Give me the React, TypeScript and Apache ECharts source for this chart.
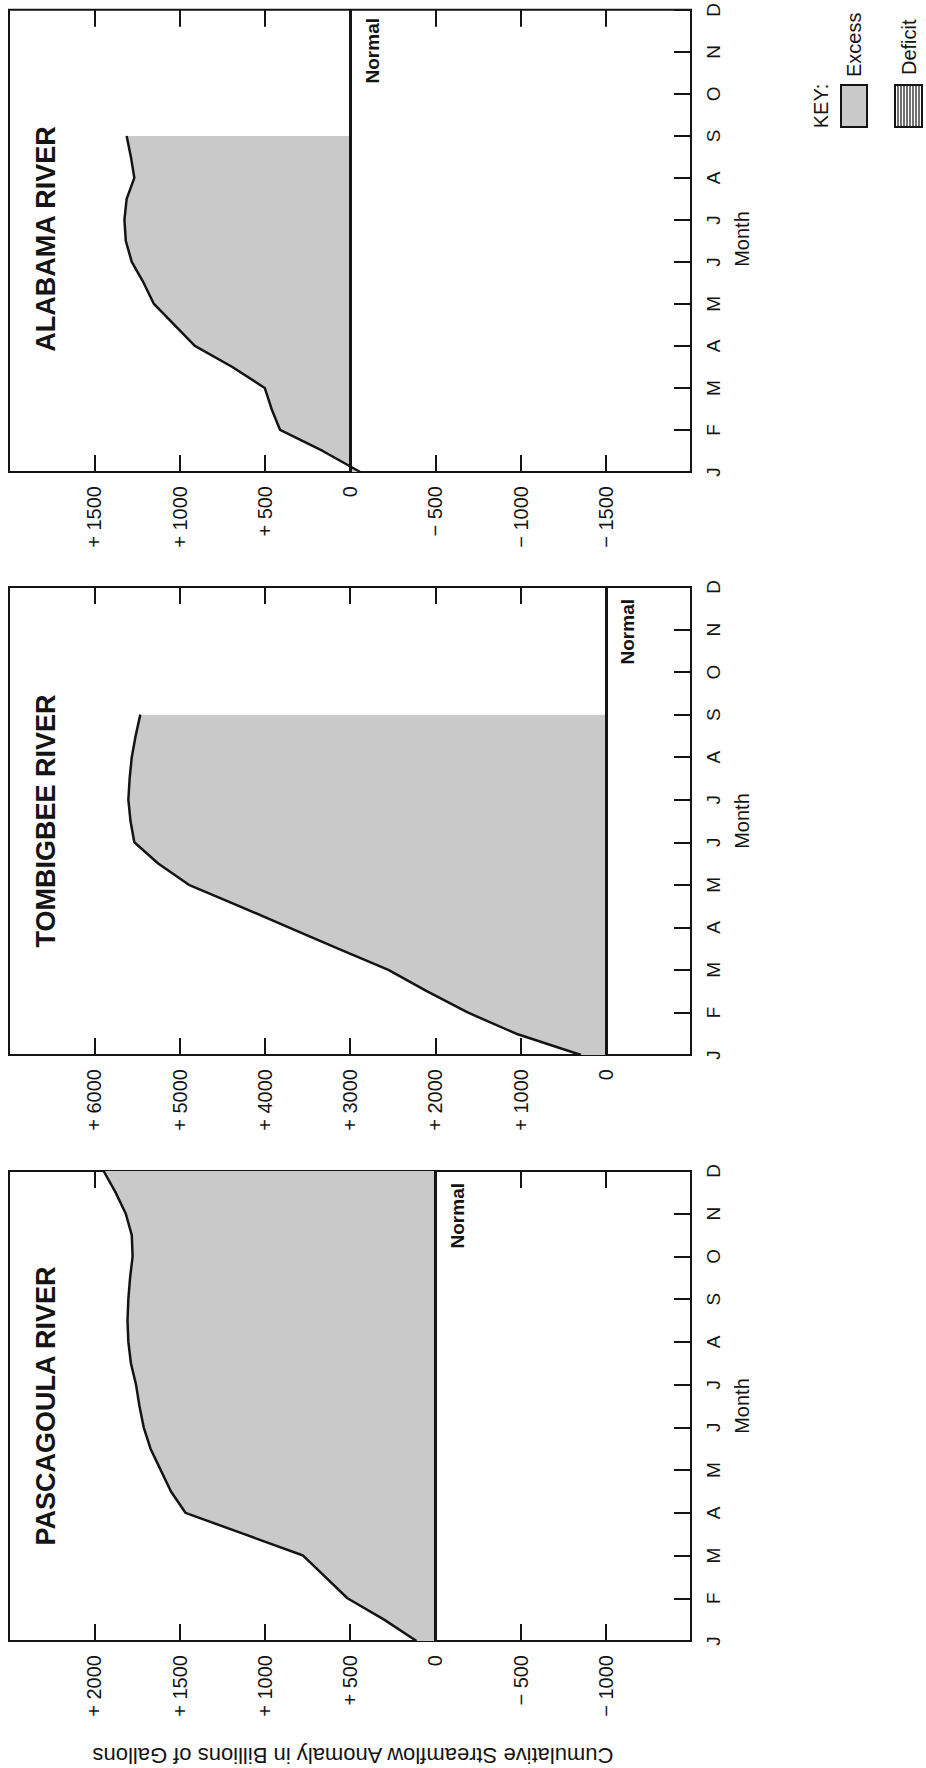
import React, { useEffect, useRef } from 'react';
import * as echarts from 'echarts';

// Month tick labels (one per month) and the half-month positions along the month axis
const MONTH_LABELS = ['J', 'F', 'M', 'A', 'M', 'J', 'J', 'A', 'S', 'O', 'N', 'D'];
const HALF_MONTH_KEYS = [
  'Jan 1', 'Jan 16', 'Feb 1', 'Feb 15', 'Mar 1', 'Mar 16', 'Apr 1', 'Apr 16',
  'May 1', 'May 16', 'Jun 1', 'Jun 16', 'Jul 1', 'Jul 16', 'Aug 1', 'Aug 16',
  'Sep 1', 'Sep 16', 'Oct 1', 'Oct 16', 'Nov 1', 'Nov 16', 'Dec 1',
];

const RIVER_NAMES = ['ALABAMA RIVER', 'TOMBIGBEE RIVER', 'PASCAGOULA RIVER'];

// Cumulative streamflow anomaly (billions of gallons), half-month steps from Jan 1
const ALABAMA = [-60, 160, 410, 460, 500, 690, 910, 1030, 1150, 1210, 1280, 1315, 1323, 1310, 1265, 1285, 1310];
const TOMBIGBEE = [290, 1050, 1620, 2100, 2550, 3140, 3720, 4300, 4890, 5250, 5530, 5575, 5600, 5585, 5560, 5515, 5460];
const PASCAGOULA = [110, 300, 515, 645, 775, 1120, 1465, 1550, 1610, 1670, 1710, 1735, 1755, 1785, 1800, 1805, 1800, 1790, 1775, 1780, 1815, 1875, 1945];

// Value-axis ranges and tick steps
const ALABAMA_AXIS = { min: -2000, max: 2000, step: 500 };
const TOMBIGBEE_AXIS = { min: -1000, max: 7000, step: 1000 };
const PASCAGOULA_AXIS = { min: -1500, max: 2500, step: 500 };

const AXIS_TITLE = 'Cumulative Streamflow Anomaly in Billions of Gallons';
const KEY_LABELS = ['KEY:', 'Excess', 'Deficit'];

const FONT = '"Liberation Sans", Arial, Helvetica, sans-serif';
const INK = '#141414';
const FILL = '#c9c9c9';

const LAYOUT = [
  { top: 6, height: 466 },
  { top: 587, height: 468 },
  { top: 1171, height: 470 },
];
const GRID_LEFT = 9;
const GRID_WIDTH = 682;

const fmtValue = (v: number) => (v === 0 ? '0' : v > 0 ? `+ ${v}` : `\u2212 ${Math.abs(v)}`);

export default function App() {
  const ref = useRef<HTMLDivElement>(null);

  useEffect(() => {
    document.body.style.margin = '0';
    const chart = echarts.init(ref.current as HTMLDivElement, null, { renderer: 'svg' });

    const panels = [
      { name: RIVER_NAMES[0], data: ALABAMA, axis: ALABAMA_AXIS },
      { name: RIVER_NAMES[1], data: TOMBIGBEE, axis: TOMBIGBEE_AXIS },
      { name: RIVER_NAMES[2], data: PASCAGOULA, axis: PASCAGOULA_AXIS },
    ];

    const grid = panels.map((_, i) => ({
      left: GRID_LEFT,
      width: GRID_WIDTH,
      top: LAYOUT[i].top,
      height: LAYOUT[i].height,
      show: true,
      borderColor: INK,
      borderWidth: 2,
      backgroundColor: 'transparent',
    }));

    const xAxis: any[] = [];
    panels.forEach((p, i) => {
      ['bottom', 'top'].forEach((pos) => {
        xAxis.push({
          type: 'value',
          gridIndex: i,
          position: pos,
          min: p.axis.min,
          max: p.axis.max,
          interval: p.axis.step,
          inverse: true,
          splitLine: { show: false },
          axisLine: { show: false, onZero: false },
          axisTick: { show: true, inside: true, length: 17, lineStyle: { color: INK, width: 2 } },
          axisLabel: {
            show: pos === 'bottom',
            rotate: 90,
            margin: 14,
            showMinLabel: false,
            showMaxLabel: false,
            formatter: fmtValue,
            color: INK,
            fontSize: 20,
            fontFamily: FONT,
          },
        });
      });
    });

    const yAxis = panels.map((_, i) => ({
      type: 'category',
      gridIndex: i,
      position: 'right',
      data: HALF_MONTH_KEYS,
      boundaryGap: false,
      splitLine: { show: false },
      axisLine: { show: false, onZero: false },
      axisTick: { show: true, inside: true, length: 17, interval: 1, lineStyle: { color: INK, width: 2 } },
      axisLabel: {
        interval: 1,
        rotate: 90,
        margin: 13,
        formatter: (_v: string, idx: number) => (idx % 2 === 0 ? MONTH_LABELS[idx / 2] : ''),
        color: INK,
        fontSize: 19,
        fontFamily: FONT,
      },
    }));

    const series = panels.map((p, i) => ({
      type: 'line',
      name: p.name,
      xAxisIndex: i * 2,
      yAxisIndex: i,
      data: p.data.map((v, k) => [v, k]),
      symbol: 'none',
      lineStyle: { color: INK, width: 2.5 },
      areaStyle: { color: FILL, opacity: 1 },
      z: 2,
      markLine: {
        silent: true,
        symbol: ['none', 'none'],
        label: { show: false },
        lineStyle: { color: INK, width: 3, type: 'solid' },
        data: [{ xAxis: 0 }],
        z: 5,
      },
    }));

    chart.setOption({
      animation: false,
      backgroundColor: '#ffffff',
      grid,
      xAxis,
      yAxis,
      series,
    });

    const graphic: any[] = [];
    panels.forEach((p, i) => {
      const top = LAYOUT[i].top;
      const mid = top + LAYOUT[i].height / 2;
      const zeroX = chart.convertToPixel({ xAxisIndex: i * 2 }, 0) as number;
      // River title
      graphic.push({
        type: 'text',
        x: 46,
        y: mid,
        rotation: Math.PI / 2,
        style: {
          text: p.name,
          fill: INK,
          font: `bold 27px ${FONT}`,
          textAlign: 'center',
          textVerticalAlign: 'middle',
        },
      });
      // "Normal" label next to the zero line
      graphic.push({
        type: 'text',
        x: zeroX + 22,
        y: top + 12,
        rotation: Math.PI / 2,
        style: {
          text: 'Normal',
          fill: INK,
          font: `bold 19px ${FONT}`,
          textAlign: 'right',
          textVerticalAlign: 'middle',
        },
      });
      // Month axis name
      graphic.push({
        type: 'text',
        x: 742,
        y: mid,
        rotation: Math.PI / 2,
        style: {
          text: 'Month',
          fill: INK,
          font: `20px ${FONT}`,
          textAlign: 'center',
          textVerticalAlign: 'middle',
        },
      });
    });

    // Value axis title (upside down)
    graphic.push({
      type: 'text',
      x: GRID_LEFT + GRID_WIDTH / 2 + 3,
      y: 1755,
      rotation: Math.PI,
      style: {
        text: AXIS_TITLE,
        fill: INK,
        font: `22px ${FONT}`,
        textAlign: 'center',
        textVerticalAlign: 'middle',
      },
    });

    // Key
    graphic.push({
      type: 'text',
      x: 821,
      y: 106,
      rotation: Math.PI / 2,
      style: { text: KEY_LABELS[0], fill: INK, font: `20px ${FONT}`, textAlign: 'center', textVerticalAlign: 'middle' },
    });
    graphic.push({
      type: 'rect',
      shape: { x: 841, y: 85, width: 26, height: 42 },
      style: { fill: FILL, stroke: INK, lineWidth: 2 },
    });
    graphic.push({
      type: 'text',
      x: 854,
      y: 77,
      rotation: Math.PI / 2,
      style: { text: KEY_LABELS[1], fill: INK, font: `20px ${FONT}`, textAlign: 'left', textVerticalAlign: 'middle' },
    });
    const stripes: any[] = [];
    for (let k = 0; k < 9; k++) {
      stripes.push({
        type: 'line',
        shape: { x1: 898 + k * 3, y1: 86, x2: 898 + k * 3, y2: 126 },
        style: { stroke: INK, lineWidth: 1.2 },
      });
    }
    graphic.push({
      type: 'group',
      children: [
        { type: 'rect', shape: { x: 895, y: 85, width: 27, height: 42 }, style: { fill: '#fff', stroke: INK, lineWidth: 2 } },
        ...stripes,
      ],
    });
    graphic.push({
      type: 'text',
      x: 909,
      y: 75,
      rotation: Math.PI / 2,
      style: { text: KEY_LABELS[2], fill: INK, font: `20px ${FONT}`, textAlign: 'left', textVerticalAlign: 'middle' },
    });

    chart.setOption({ graphic });

    return () => chart.dispose();
  }, []);

  return <div ref={ref} style={{ width: 926, height: 1768, background: '#fff' }} />;
}
